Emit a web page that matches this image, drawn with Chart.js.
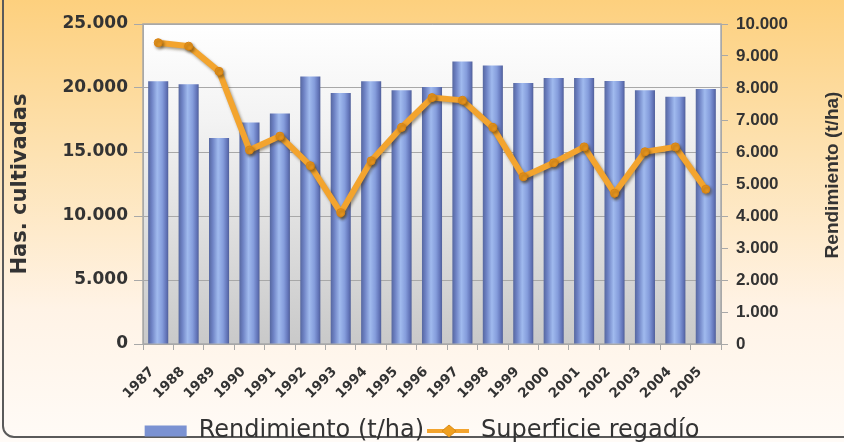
<!DOCTYPE html>
<html lang="es">
<head>
<meta charset="utf-8">
<title>Superficie regadío y rendimiento</title>
<script src="https://cdn.jsdelivr.net/npm/chart.js@4.4.1/dist/chart.umd.min.js"></script>
<style>
  html, body { margin: 0; padding: 0; }
  body {
    width: 844px; height: 442px; overflow: hidden; position: relative;
    background: linear-gradient(to bottom, #fdd07e 0%, #fde2b2 35%, #fff3e6 70%, #fffbf7 100%);
  }
  #frame {
    position: absolute; left: 2px; top: -20px; width: 900px; height: 458px;
    border: 2px solid #5a5a5a; border-radius: 12px; box-sizing: border-box;
  }
  #wrap { position: absolute; left: 0; top: 0; width: 844px; height: 442px; }
</style>
</head>
<body>
<div id="frame"></div>
<div id="wrap"><canvas id="chart" width="844" height="442"></canvas></div>
<script>
// data
const years = ['1987','1988','1989','1990','1991','1992','1993','1994','1995','1996',
               '1997','1998','1999','2000','2001','2002','2003','2004','2005'];
// bars, right axis (t/ha, shown x1000)
const rendimiento = [8210, 8120, 6440, 6920, 7200, 8360, 7840, 8210, 7930, 8030,
                     8830, 8700, 8160, 8310, 8310, 8220, 7930, 7730, 7970];
// line, left axis (ha)
const superficie = [23540, 23270, 21300, 15150, 16240, 13930, 10260, 14310, 16920, 19250,
                    19040, 16920, 13070, 14160, 15400, 11780, 15020, 15400, 12090];

const leftTicks = [0, 5000, 10000, 15000, 20000, 25000];
const rightTicks = [0, 1000, 2000, 3000, 4000, 5000, 6000, 7000, 8000, 9000, 10000];

const ARIAL = "'Liberation Sans', Arial, sans-serif";
const WIDE = "'DejaVu Sans', Verdana, sans-serif";
const TXT = '#333333';
const ORANGE = '#f3a42e';
const PAD_BOTTOM = -11;

function fmt(v) {
  return String(v).replace(/\B(?=(\d{3})+(?!\d))/g, '.');
}

// cylinder-like gradient for each bar
function barFill(ctx) {
  const chart = ctx.chart;
  const xs = chart.scales.x;
  if (!xs || !chart.chartArea || ctx.dataIndex === undefined) return '#7f96d6';
  const cx = xs.getPixelForValue(ctx.dataIndex);
  const w = xs.width / years.length * 0.66;
  const g = chart.ctx.createLinearGradient(cx - w / 2, 0, cx + w / 2, 0);
  g.addColorStop(0, '#56679f');
  g.addColorStop(0.18, '#6e82c4');
  g.addColorStop(0.45, '#a0baee');
  g.addColorStop(0.7, '#859ddc');
  g.addColorStop(0.9, '#6274b8');
  g.addColorStop(1, '#505f98');
  return g;
}

const plotBg = {
  id: 'plotBg',
  beforeDraw(chart) {
    const a = chart.chartArea;
    const c = chart.ctx;
    const g = c.createLinearGradient(0, a.top, 0, a.bottom);
    g.addColorStop(0, '#ffffff');
    g.addColorStop(0.3, '#f3f3f3');
    g.addColorStop(1, '#c9c9c9');
    c.save();
    c.fillStyle = g;
    c.fillRect(a.left, a.top, a.right - a.left, a.bottom - a.top);
    c.strokeStyle = '#a8a8a8';
    c.lineWidth = 1.5;
    c.strokeRect(a.left, a.top, a.right - a.left, a.bottom - a.top);
    c.restore();
  }
};

const lineShadow = {
  id: 'lineShadow',
  beforeDatasetDraw(chart, args) {
    if (args.index !== 1) return;
    const c = chart.ctx;
    c.save();
    c.shadowColor = 'rgba(60,40,0,0.45)';
    c.shadowBlur = 3;
    c.shadowOffsetX = 1.5;
    c.shadowOffsetY = 2;
  },
  afterDatasetDraw(chart, args) {
    if (args.index !== 1) return;
    chart.ctx.restore();
  }
};

// right axis title reads bottom-to-top like the left one; diamond on legend line
const extras = {
  id: 'extras',
  afterDraw(chart) {
    const c = chart.ctx;
    c.save();
    c.translate(833, 175);
    c.rotate(-Math.PI / 2);
    c.font = 'bold 19px ' + ARIAL;
    c.fillStyle = TXT;
    c.textAlign = 'center';
    c.textBaseline = 'middle';
    c.fillText('Rendimiento (t/ha)', 0, 0);
    c.restore();

    const lg = chart.legend;
    if (lg && lg.legendHitBoxes && lg.legendHitBoxes[1]) {
      const hb = lg.legendHitBoxes[1];
      const x = hb.left + 22, y = hb.top + hb.height / 2;
      c.save();
      c.fillStyle = '#f0a020';
      c.strokeStyle = '#d98a14';
      c.lineWidth = 1;
      c.beginPath();
      c.moveTo(x, y - 6); c.lineTo(x + 7, y); c.lineTo(x, y + 6); c.lineTo(x - 7, y);
      c.closePath();
      c.fill(); c.stroke();
      c.restore();
    }
  }
};

new Chart(document.getElementById('chart'), {
  type: 'bar',
  data: {
    labels: years,
    datasets: [
      {
        type: 'bar',
        label: 'Rendimiento (t/ha)',
        data: rendimiento,
        yAxisID: 'yR',
        backgroundColor: barFill,
        borderWidth: 0,
        categoryPercentage: 0.66,
        barPercentage: 1.0,
        order: 2
      },
      {
        type: 'line',
        label: 'Superficie regadío',
        data: superficie,
        yAxisID: 'yL',
        borderColor: ORANGE,
        backgroundColor: ORANGE,
        borderWidth: 6,
        pointRadius: 4,
        pointBackgroundColor: '#e8961e',
        pointBorderColor: '#d98414',
        pointBorderWidth: 1,
        tension: 0,
        order: 1
      }
    ]
  },
  options: {
    responsive: false,
    animation: false,
    layout: { padding: { top: 24, left: 0, right: 0, bottom: PAD_BOTTOM } },
    plugins: {
      tooltip: { enabled: false },
      legend: {
        position: 'bottom',
        labels: {
          color: TXT,
          font: { family: WIDE, size: 24 },
          usePointStyle: true,
          pointStyleWidth: 42,
          boxHeight: 11,
          padding: 3,
          generateLabels() {
            return [
              { text: 'Rendimiento (t/ha)', fillStyle: '#7b92d2', strokeStyle: '#7b92d2',
                lineWidth: 0, pointStyle: 'rect', datasetIndex: 0, fontColor: TXT },
              { text: 'Superficie regadío', fillStyle: ORANGE, strokeStyle: ORANGE,
                lineWidth: 4, pointStyle: 'line', datasetIndex: 1, fontColor: TXT }
            ];
          }
        }
      }
    },
    scales: {
      x: {
        grid: { display: true, drawOnChartArea: false, color: '#a8a8a8', tickLength: 6 },
        border: { color: '#a8a8a8' },
        ticks: {
          color: TXT, font: { family: WIDE, size: 13.5, weight: 'bold' },
          minRotation: 45, maxRotation: 45, padding: 14, labelOffset: -6
        },
        afterFit(scale) {
          const lg = scale.chart.legend;
          const lh = lg ? lg.height : 40;
          scale.height = 442 - 344 - lh - PAD_BOTTOM;
        }
      },
      yL: {
        position: 'left',
        min: 0, max: 25000,
        afterBuildTicks(scale) { scale.ticks = leftTicks.map(v => ({ value: v })); },
        grid: { color: '#a8a8a8', tickLength: 9, lineWidth: 1 },
        border: { color: '#a8a8a8' },
        ticks: {
          color: TXT, font: { family: WIDE, size: 17, weight: 'bold' }, padding: 6,
          callback: v => fmt(v)
        },
        title: {
          display: true, text: 'Has. cultivadas', color: TXT,
          font: { family: WIDE, size: 21, weight: 'bold' }, padding: { top: 8, bottom: 0 }
        },
        afterFit(scale) { scale.width = 143; }
      },
      yR: {
        position: 'right',
        min: 0, max: 10000,
        afterBuildTicks(scale) { scale.ticks = rightTicks.map(v => ({ value: v })); },
        grid: { drawOnChartArea: false, color: '#a8a8a8', tickLength: 7 },
        border: { color: '#a8a8a8' },
        ticks: {
          color: TXT, font: { family: ARIAL, size: 17, weight: 'bold' }, padding: 8,
          callback: v => fmt(v)
        },
        title: { display: false },
        afterFit(scale) { scale.width = 844 - 721; }
      }
    }
  },
  plugins: [plotBg, lineShadow, extras]
});
</script>
</body>
</html>
